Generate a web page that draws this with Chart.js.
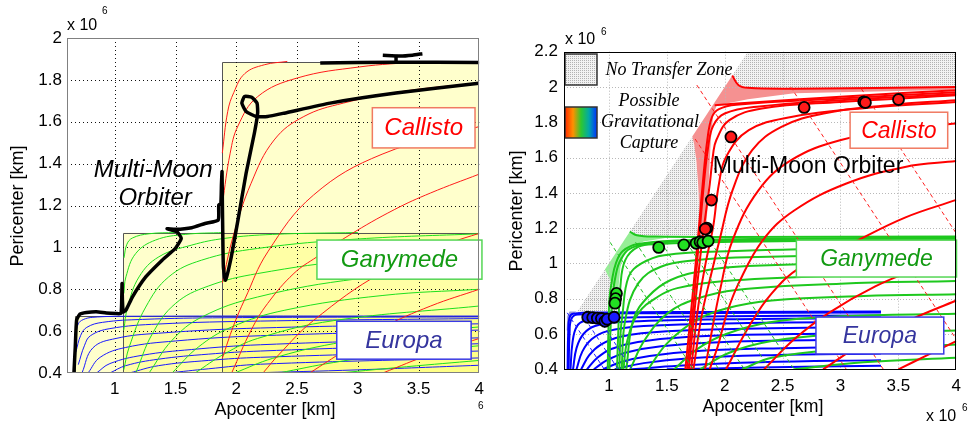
<!DOCTYPE html>
<html>
<head>
<meta charset="utf-8">
<script src="https://cdn.jsdelivr.net/npm/chart.js"></script>
<style>
html,body{margin:0;padding:0;background:#fff;}
#wrap{position:relative;width:968px;height:428px;overflow:hidden;background:#fff;}
canvas{position:absolute;top:0;}
#left{left:0;}
#right{left:490px;}
</style>
</head>
<body>
<div id="wrap">
<canvas id="left" width="490" height="428"></canvas>
<canvas id="right" width="478" height="428"></canvas>
</div>
<script>
const SANS = '"Liberation Sans", Arial, sans-serif';
const SERIF = '"Liberation Serif", "Times New Roman", serif';

// ---- axes (units of 10^6 km) ----
const X_TICKS = [1, 1.5, 2, 2.5, 3, 3.5, 4];
const Y_TICKS_LEFT = [0.4, 0.6, 0.8, 1, 1.2, 1.4, 1.6, 1.8, 2];
const Y_TICKS_RIGHT = [0.4, 0.6, 0.8, 1, 1.2, 1.4, 1.6, 1.8, 2, 2.2];

// ---- moon orbit radii ----
const EUROPA_ORBIT = 0.671;
const GANYMEDE_ORBIT = 1.070;
const CALLISTO_ORBIT = 1.883;

// ---- left figure: v-infinity contours [apocenter, pericenter] ----
const L_RED = [
  [[1.885,1.45],[1.93,1.65],[1.98,1.74],[2.07,1.83],[2.23,1.872],[2.42,1.888]],
  [[1.885,1.205],[1.95,1.45],[2.014,1.58],[2.176,1.72],[2.502,1.809],[3.017,1.862],[3.5,1.886]],
  [[1.885,0.83],[1.977,1.058],[2.122,1.306],[2.312,1.513],[2.556,1.625],[2.881,1.689],[3.369,1.745],[4,1.785]],
  [[1.885,0.47],[1.977,0.625],[2.071,0.753],[2.26,0.979],[2.636,1.25],[3.2,1.445],[4,1.577]],
  [[1.962,0.40],[2.122,0.604],[2.258,0.732],[2.475,0.876],[2.664,0.955],[2.935,1.06],[3.3,1.18],[3.6,1.26],[4,1.35]],
  [[2.22,0.40],[2.354,0.49],[2.636,0.651],[3.2,0.88],[3.766,1.022],[4,1.067]],
  [[2.604,0.40],[2.9,0.51],[3.2,0.616],[3.6,0.72],[4,0.80]],
  [[3.206,0.40],[3.6,0.49],[4,0.565]]
];
const L_GREEN = [
  [[1.076,0.95],[1.10,1.015],[1.146,1.045],[1.282,1.065],[1.5,1.071]],
  [[1.075,0.78],[1.092,0.859],[1.173,0.971],[1.336,1.035],[1.58,1.062],[1.9,1.071]],
  [[1.074,0.605],[1.106,0.715],[1.2,0.859],[1.363,0.955],[1.634,1.011],[1.905,1.043],[2.3,1.062],[3,1.071]],
  [[1.074,0.415],[1.119,0.524],[1.255,0.715],[1.444,0.859],[1.715,0.939],[2.176,0.995],[3,1.04],[4,1.065]],
  [[1.173,0.40],[1.309,0.587],[1.498,0.731],[1.769,0.815],[2.176,0.875],[3,0.94],[4,0.97]],
  [[1.282,0.40],[1.471,0.556],[1.715,0.667],[2.176,0.763],[3,0.85],[4,0.90]],
  [[1.471,0.40],[1.688,0.524],[1.959,0.619],[2.4,0.70],[3.2,0.77],[4,0.80]],
  [[1.661,0.40],[1.905,0.492],[2.176,0.565],[2.8,0.65],[4,0.72]],
  [[1.986,0.40],[2.3,0.47],[2.8,0.54],[3.4,0.59],[4,0.62]],
  [[2.35,0.40],[2.8,0.45],[3.4,0.50],[4,0.53]],
  [[2.85,0.40],[3.4,0.43],[4,0.46]]
];
const L_BLUE = [
  [[0.676,0.58],[0.70,0.635],[0.74,0.655],[0.82,0.666],[1.1,0.671],[4,0.672]],
  [[0.68,0.50],[0.72,0.58],[0.77,0.618],[0.9,0.642],[1.23,0.656],[1.9,0.664],[4,0.668]],
  [[0.70,0.44],[0.75,0.53],[0.80,0.578],[0.96,0.612],[1.36,0.634],[2.2,0.648],[4,0.66]],
  [[0.73,0.40],[0.82,0.52],[1.01,0.565],[1.36,0.590],[2.2,0.615],[4,0.635]],
  [[0.78,0.40],[0.88,0.475],[1.09,0.522],[1.5,0.553],[2.2,0.578],[4,0.605]],
  [[0.85,0.40],[0.96,0.445],[1.23,0.485],[1.63,0.512],[2.2,0.535],[4,0.568]],
  [[0.96,0.40],[1.09,0.435],[1.36,0.466],[1.77,0.49],[2.2,0.505],[4,0.54]],
  [[1.12,0.40],[1.36,0.435],[1.77,0.46],[2.2,0.475],[4,0.505]],
  [[1.44,0.40],[1.77,0.42],[2.2,0.442],[4,0.472]],
  [[2.1,0.40],[3,0.415],[4,0.437]]
];
// Multi-Moon Orbiter path
const L_ORBITER = [
  [0.664,0.40],[0.675,0.524],[0.686,0.652],[0.713,0.681],[0.767,0.689],[0.848,0.693],[0.93,0.687],
  [1.011,0.684],[1.051,0.684],[1.058,0.77],[1.060,0.827],[1.063,0.75],[1.070,0.692],[1.092,0.70],
  [1.146,0.764],[1.255,0.859],[1.39,0.939],[1.499,0.995],[1.547,1.043],[1.512,1.075],[1.431,1.089],
  [1.499,1.086],[1.634,1.094],[1.743,1.114],[1.851,1.130],[1.856,1.202],[1.873,1.210],[1.878,1.30],
  [1.883,1.362],[1.886,1.2],[1.889,1.067],[1.894,0.907],[1.911,0.843],[1.959,0.955],[2.014,1.130],
  [2.081,1.354],[2.149,1.545],[2.176,1.641],[2.171,1.689],[2.127,1.717],[2.068,1.721],[2.046,1.689],
  [2.081,1.649],[2.163,1.625],[2.257,1.625],[2.393,1.641],[2.772,1.689],[3.314,1.737],[3.997,1.784]
];
const L_ORBITER_TOP = [[2.691,1.881],[3.3,1.884],[4,1.883]];
const L_ORBITER_HOOK = [[3.206,1.918],[3.35,1.914],[3.45,1.918],[3.532,1.925]];
const L_ORBITER_STUB = [[3.315,1.886],[3.315,1.92]];

// ---- right figure ----
const R_RED = [
  [[2.065,2.065],[2.12,2.01],[2.2,1.995],[2.6,1.99],[4,2.0]],
  [[1.913,1.896],[2.3,1.915],[3,1.945],[4,1.982]],
  [[1.66,0.40],[1.72,0.80],[1.77,1.15],[1.81,1.45],[1.85,1.70],[1.89,1.83],[1.95,1.875],[2.1,1.90],[3,1.935],[4,1.97]],
  [[1.675,0.40],[1.735,0.80],[1.78,1.15],[1.82,1.45],[1.855,1.65],[1.90,1.78],[2.0,1.85],[2.3,1.89],[3,1.925],[4,1.96]],
  [[1.69,0.40],[1.75,0.80],[1.80,1.10],[1.84,1.30],[1.871,1.45],[1.90,1.62],[1.927,1.698],[2.04,1.812],[2.321,1.878],[2.996,1.915],[4,1.953]],
  [[1.71,0.40],[1.77,0.75],[1.835,1.0],[1.9,1.207],[1.95,1.45],[2.012,1.604],[2.208,1.755],[2.574,1.83],[3.2,1.88],[4,1.915]],
  [[1.73,0.40],[1.80,0.70],[1.88,0.93],[1.955,1.132],[2.068,1.415],[2.237,1.642],[2.49,1.774],[2.855,1.85],[3.417,1.897],[4,1.925]],
  [[1.83,0.40],[1.89,0.62],[1.96,0.85],[2.068,1.132],[2.293,1.415],[2.574,1.585],[2.996,1.698],[3.557,1.765],[4,1.793]],
  [[1.87,0.40],[1.94,0.53],[2.02,0.72],[2.12,0.887],[2.33,1.132],[2.6,1.30],[3.051,1.453],[3.557,1.547],[4,1.58]],
  [[2.012,0.40],[2.208,0.641],[2.406,0.83],[2.659,0.981],[3.051,1.10],[3.557,1.26],[4,1.36]],
  [[2.34,0.40],[2.6,0.57],[2.9,0.72],[3.3,0.87],[3.7,0.98],[4,1.05]],
  [[2.85,0.40],[3.2,0.55],[3.6,0.68],[4,0.79]],
  [[3.5,0.40],[3.75,0.48],[4,0.56]]
];
const R_GREEN = [
  [[0.99,0.40],[0.995,0.60],[1.005,0.80],[1.025,0.90],[1.06,1.0],[1.12,1.07],[1.25,1.11],[1.6,1.13],[2.5,1.14],[4,1.148]],
  [[1.005,0.40],[1.012,0.60],[1.03,0.80],[1.055,0.92],[1.10,1.02],[1.2,1.09],[1.45,1.12],[2.1,1.13],[4,1.142]],
  [[1.18,1.18],[1.24,1.16],[1.4,1.152],[2.0,1.15],[4,1.152]],
  [[1.07,0.40],[1.08,0.60],[1.099,0.868],[1.141,1.019],[1.253,1.094],[1.422,1.11],[2.096,1.123],[4,1.135]],
  [[1.09,0.40],[1.10,0.60],[1.115,0.70],[1.169,0.923],[1.281,1.0],[1.478,1.047],[2.096,1.07],[4,1.10]],
  [[1.11,0.40],[1.141,0.68],[1.253,0.887],[1.449,0.981],[1.759,1.019],[2.096,1.034],[4,1.06]],
  [[1.15,0.40],[1.211,0.68],[1.338,0.811],[1.534,0.906],[1.843,0.961],[2.2,0.985],[4,1.02]],
  [[1.125,0.40],[1.16,0.566],[1.253,0.717],[1.422,0.811],[1.59,0.86],[2.0,0.90],[3,0.93],[4,0.945]],
  [[1.183,0.40],[1.309,0.566],[1.506,0.717],[1.759,0.80],[2.1,0.85],[3,0.885],[4,0.90]],
  [[1.338,0.40],[1.506,0.55],[1.759,0.68],[2.012,0.745],[2.406,0.79],[3.2,0.815],[4,0.825]],
  [[1.563,0.40],[1.759,0.513],[2.012,0.60],[2.406,0.668],[3,0.70],[4,0.715]],
  [[1.787,0.40],[2.04,0.494],[2.406,0.56],[3,0.60],[4,0.62]],
  [[2.152,0.40],[2.406,0.466],[3,0.51],[4,0.54]],
  [[2.6,0.40],[3.2,0.44],[4,0.465]]
];
const R_BLUE = [
  [[0.643,0.40],[0.648,0.60],[0.658,0.69],[0.69,0.715],[1.0,0.722],[2.0,0.725],[3.35,0.728]],
  [[0.652,0.40],[0.66,0.60],[0.675,0.685],[0.73,0.71],[1.5,0.718],[3.35,0.722]],
  [[0.668,0.40],[0.685,0.55],[0.72,0.64],[0.79,0.675],[1.0,0.69],[2.0,0.70],[3.35,0.705]],
  [[0.69,0.40],[0.72,0.52],[0.78,0.60],[0.88,0.645],[1.1,0.668],[2.0,0.684],[3.35,0.69]],
  [[0.72,0.40],[0.77,0.50],[0.85,0.57],[0.98,0.615],[1.3,0.645],[2.2,0.662],[3.35,0.668]],
  [[0.76,0.40],[0.83,0.48],[0.93,0.54],[1.1,0.585],[1.5,0.615],[2.4,0.632],[3.35,0.64]],
  [[0.81,0.40],[0.90,0.465],[1.02,0.515],[1.25,0.555],[1.7,0.585],[2.6,0.60],[3.35,0.605]],
  [[0.87,0.40],[0.98,0.45],[1.15,0.495],[1.45,0.53],[2.0,0.555],[3.35,0.57]],
  [[0.95,0.40],[1.1,0.44],[1.35,0.475],[1.8,0.505],[2.5,0.52],[3.35,0.53]],
  [[1.05,0.40],[1.3,0.435],[1.7,0.462],[2.4,0.48],[3.35,0.49]],
  [[1.2,0.40],[1.6,0.42],[2.3,0.44],[3.35,0.452]],
  [[1.5,0.40],[2.3,0.41],[3.35,0.42]]
];
// constant semi-major axis lines
const R_RED_DASH = [
  [[1.759,2.011],[3.37,0.40]],
  [[1.745,1.705],[3.05,0.40]],
  [[2.57,2.0],[4,0.57]],
  [[3.18,1.99],[4,1.17]]
];
const R_GREEN_DASH = [
  [[1.01,1.12],[1.73,0.40]],
  [[1.23,1.12],[1.95,0.40]],
  [[1.45,1.12],[2.17,0.40]],
  [[1.67,1.12],[2.39,0.40]],
  [[1.88,1.12],[2.60,0.40]]
];
const R_BLUE_DASH = [
  [[0.64,0.72],[0.96,0.40]],
  [[0.76,0.72],[1.08,0.40]],
  [[0.88,0.72],[1.20,0.40]]
];
// flyby points
const R_RED_DOTS = [[1.885,1.359],[1.845,1.20],[1.832,1.195],[2.054,1.717],[2.686,1.884],[3.201,1.916],[3.215,1.912],[3.501,1.929]];
const R_GREEN_DOTS = [[1.065,0.83],[1.058,0.80],[1.052,0.775],[1.43,1.091],[1.647,1.105],[1.753,1.114],[1.787,1.123],[1.81,1.118],[1.857,1.127]];
const R_BLUE_DOTS = [[0.817,0.695],[0.86,0.693],[0.90,0.69],[0.935,0.688],[0.965,0.672],[0.985,0.684],[1.045,0.695]];
// regions
const R_GRAY_ZONES = [
  [[0.70,0.70],[1.0,0.722],[1.062,0.722],[1.05,0.80],[1.03,0.88],[0.965,0.965]],
  [[1.18,1.18],[1.72,1.72],[1.74,1.66],[1.755,1.55],[1.77,1.40],[1.78,1.28],[1.79,1.16],[1.5,1.148],[1.32,1.152],[1.24,1.165]],
  [[2.065,2.065],[2.2,2.2],[4,2.2],[4,2.0],[2.5,1.99],[2.2,1.997],[2.11,2.015]]
];
const R_CAPTURE_RED = [[1.72,1.72],[2.065,2.065],[2.11,2.015],[2.2,1.997],[2.5,1.99],[4,2.0],[4,1.985],[2.6,1.965],[2.2,1.93],[1.93,1.895],[1.90,1.84],[1.88,1.70],[1.865,1.5],[1.85,1.3],[1.835,1.17],[1.80,1.15],[1.79,1.2],[1.78,1.32],[1.77,1.45],[1.755,1.58],[1.735,1.68]];
const R_CAPTURE_GREEN = [[0.965,0.965],[1.18,1.18],[1.24,1.165],[1.32,1.152],[1.5,1.145],[1.3,1.125],[1.2,1.10],[1.13,1.05],[1.10,0.98],[1.085,0.88],[1.075,0.78],[1.065,0.722],[1.05,0.80],[1.03,0.88]];
const R_CAPTURE_BLUE = [[0.635,0.62],[0.64,0.70],[0.66,0.728],[0.72,0.728],[0.685,0.712],[0.66,0.68],[0.648,0.62]];

// ---- annotation boxes [x0, y0, x1, y1] ----
const L_BOX_CALLISTO = [3.12, 1.475, 3.965, 1.667];
const L_BOX_GANYMEDE = [2.664, 0.848, 4.022, 1.035];
const L_BOX_EUROPA = [2.827, 0.466, 3.933, 0.647];
const R_BOX_CALLISTO = [3.083, 1.653, 3.926, 1.857];
const R_BOX_GANYMEDE = [2.619, 0.923, 4.002, 1.132];
const R_BOX_EUROPA = [2.788, 0.487, 3.892, 0.696];

// ---------- helpers ----------
const X = (c, v) => c.scales.x.getPixelForValue(v);
const Y = (c, v) => c.scales.y.getPixelForValue(v);
const toXY = pts => pts.map(p => ({x: p[0], y: p[1]}));

function lines(list, color, width, order, extra) {
  return list.map(pts => Object.assign({
    data: toXY(pts), showLine: true, borderColor: color, backgroundColor: color,
    borderWidth: width, pointRadius: 0, tension: 0.4, fill: false, order: order
  }, extra || {}));
}
function dots(pts, color) {
  return {
    data: toXY(pts), showLine: false, pointRadius: 5.5, pointBorderWidth: 1.8,
    pointBorderColor: '#000', pointBackgroundColor: color, backgroundColor: color,
    borderColor: '#000', order: 0
  };
}
function clipToArea(c) {
  const a = c.chartArea;
  c.ctx.beginPath();
  c.ctx.rect(a.left, a.top, a.right - a.left, a.bottom - a.top);
  c.ctx.clip();
}
function polyPath(c, pts) {
  const ctx = c.ctx;
  ctx.beginPath();
  pts.forEach((p, i) => {
    const px = X(c, p[0]), py = Y(c, p[1]);
    if (i) ctx.lineTo(px, py); else ctx.moveTo(px, py);
  });
  ctx.closePath();
}
function dottedGrid(c, color, dash, yTicks) {
  const ctx = c.ctx, a = c.chartArea;
  ctx.save();
  ctx.strokeStyle = color; ctx.lineWidth = 1; ctx.setLineDash(dash);
  X_TICKS.forEach(v => {
    const x = Math.round(X(c, v)) + 0.5;
    if (x < a.right - 2) { ctx.beginPath(); ctx.moveTo(x, a.top); ctx.lineTo(x, a.bottom); ctx.stroke(); }
  });
  yTicks.forEach(v => {
    const y = Math.round(Y(c, v)) + 0.5;
    if (y > a.top + 2 && y < a.bottom - 2) { ctx.beginPath(); ctx.moveTo(a.left, y); ctx.lineTo(a.right, y); ctx.stroke(); }
  });
  ctx.restore();
}
function write(ctx, s, x, y, font, color, align, base) {
  ctx.save();
  ctx.font = font; ctx.fillStyle = color;
  ctx.textAlign = align || 'center'; ctx.textBaseline = base || 'middle';
  ctx.fillText(s, x, y);
  ctx.restore();
}
function writeVertical(ctx, s, x, y, font) {
  ctx.save();
  ctx.translate(x, y); ctx.rotate(-Math.PI / 2);
  ctx.font = font; ctx.fillStyle = '#000'; ctx.textAlign = 'center'; ctx.textBaseline = 'middle';
  ctx.fillText(s, 0, 0);
  ctx.restore();
}
function labelBox(c, box, text, font, textColor, edgeColor) {
  const ctx = c.ctx;
  const x0 = X(c, box[0]), x1 = X(c, box[2]), y0 = Y(c, box[3]), y1 = Y(c, box[1]);
  ctx.save();
  ctx.fillStyle = '#fff';
  ctx.fillRect(x0, y0, x1 - x0, y1 - y0);
  ctx.strokeStyle = edgeColor; ctx.lineWidth = 1.5;
  ctx.strokeRect(x0, y0, x1 - x0, y1 - y0);
  ctx.restore();
  write(ctx, text, (x0 + x1) / 2, (y0 + y1) / 2 + 1, font, textColor);
}
function frame(c, color) {
  const a = c.chartArea, ctx = c.ctx;
  ctx.save();
  ctx.strokeStyle = color; ctx.lineWidth = 1;
  ctx.strokeRect(Math.round(a.left) + 0.5, Math.round(a.top) + 0.5,
                 Math.round(a.right - a.left) - 1, Math.round(a.bottom - a.top) - 1);
  ctx.restore();
}
function scalesFor(xMin, yMax, yTicks, yWidth, xHeight, xPad, yPad) {
  const tickFont = {family: SANS, size: 17};
  return {
    x: {
      type: 'linear', min: xMin, max: 4,
      afterBuildTicks: s => { s.ticks = X_TICKS.map(v => ({value: v})); },
      afterFit: s => { s.height = xHeight; },
      grid: {display: false, drawTicks: false}, border: {display: false},
      ticks: {padding: xPad, font: tickFont, color: '#000', maxRotation: 0, autoSkip: false, callback: v => String(v)}
    },
    y: {
      type: 'linear', min: 0.4, max: yMax,
      afterBuildTicks: s => { s.ticks = yTicks.map(v => ({value: v})); },
      afterFit: s => { s.width = yWidth; },
      grid: {display: false, drawTicks: false}, border: {display: false},
      ticks: {padding: yPad, font: tickFont, color: '#000', autoSkip: false, callback: v => String(v)}
    }
  };
}

// ---------- left figure ----------
const YELLOW_ZONES = [
  [EUROPA_ORBIT, 0.4, 4, EUROPA_ORBIT],
  [GANYMEDE_ORBIT, 0.4, 4, GANYMEDE_ORBIT],
  [CALLISTO_ORBIT, 0.4, 4, CALLISTO_ORBIT]
];
const leftDecor = {
  id: 'leftDecor',
  beforeDatasetsDraw(c) {
    const ctx = c.ctx;
    ctx.save();
    clipToArea(c);
    YELLOW_ZONES.forEach(z => {
      ctx.fillStyle = 'rgba(255,255,40,0.24)';
      const x0 = X(c, z[0]), x1 = X(c, z[2]), yt = Y(c, z[3]), yb = Y(c, z[1]);
      ctx.fillRect(x0, yt, x1 - x0, yb - yt);
    });
    ctx.strokeStyle = '#555'; ctx.lineWidth = 1;
    YELLOW_ZONES.forEach(z => {
      const x0 = Math.round(X(c, z[0])) + 0.5, x1 = X(c, z[2]);
      const yt = Math.round(Y(c, z[3])) + 0.5, yb = Y(c, z[1]);
      ctx.beginPath(); ctx.moveTo(x0, yb); ctx.lineTo(x0, yt); ctx.lineTo(x1, yt); ctx.stroke();
    });
    ctx.restore();
    dottedGrid(c, '#111', [1, 3], Y_TICKS_LEFT);
  },
  afterDatasetsDraw(c) {
    const ctx = c.ctx;
    labelBox(c, L_BOX_CALLISTO, 'Callisto', 'italic 24px ' + SANS, '#ff0000', '#f07a62');
    labelBox(c, L_BOX_GANYMEDE, 'Ganymede', 'italic 24px ' + SANS, '#129a12', '#55d655');
    labelBox(c, L_BOX_EUROPA, 'Europa', 'italic 24px ' + SANS, '#35359e', '#3a3ae6');
    write(ctx, 'Multi-Moon', X(c, 1.316), Y(c, 1.369), 'italic 24px ' + SANS, '#000');
    write(ctx, 'Orbiter', X(c, 1.332), Y(c, 1.236), 'italic 24px ' + SANS, '#000');
    frame(c, '#808080');
    writeVertical(ctx, 'Pericenter [km]', 18, 206, '18px ' + SANS);
    write(ctx, 'Apocenter [km]', 275, 410, '18px ' + SANS, '#000');
    write(ctx, 'x 10', 67, 30, '16px ' + SANS, '#000', 'left', 'alphabetic');
    write(ctx, '6', 102, 14, '10px ' + SANS, '#000', 'left', 'alphabetic');
    write(ctx, '6', 478, 409, '10px ' + SANS, '#000', 'left', 'alphabetic');
  }
};

const leftSets = [].concat(
  [Object.assign(lines([L_ORBITER], '#000', 3.5, 1)[0], {tension: 0.15})],
  lines([L_ORBITER_TOP, L_ORBITER_HOOK, L_ORBITER_STUB], '#000', 3.5, 1, {tension: 0.2}),
  lines(L_RED, '#ff1a1a', 1, 3),
  lines(L_GREEN, '#1ee01e', 1, 4),
  lines(L_BLUE, '#1a1aff', 1, 5)
);

new Chart(document.getElementById('left'), {
  type: 'scatter',
  data: {datasets: leftSets},
  options: {
    responsive: false, animation: false, devicePixelRatio: 1, events: [],
    layout: {padding: {left: 0, right: 6, top: 38, bottom: 0}, autoPadding: false},
    plugins: {legend: {display: false}, tooltip: {enabled: false}},
    scales: scalesFor(0.607, 2, Y_TICKS_LEFT, 67, 55, 6, 5)
  },
  plugins: [leftDecor]
});

// ---------- right figure ----------
function grayPattern(ctx) {
  const p = document.createElement('canvas');
  p.width = 2; p.height = 2;
  const g = p.getContext('2d');
  g.fillStyle = '#f2f2f2'; g.fillRect(0, 0, 2, 2);
  g.fillStyle = '#b2b2b2'; g.fillRect(0, 0, 1, 1);
  return ctx.createPattern(p, 'repeat');
}
const rightDecor = {
  id: 'rightDecor',
  beforeDatasetsDraw(c) {
    const ctx = c.ctx;
    ctx.save();
    clipToArea(c);
    const pat = grayPattern(ctx);
    R_GRAY_ZONES.forEach(z => { polyPath(c, z); ctx.fillStyle = pat; ctx.fill(); });
    polyPath(c, R_CAPTURE_RED); ctx.fillStyle = 'rgb(245,145,145)'; ctx.fill();
    polyPath(c, R_CAPTURE_GREEN); ctx.fillStyle = 'rgb(150,238,150)'; ctx.fill();
    polyPath(c, R_CAPTURE_BLUE); ctx.fillStyle = 'rgb(150,150,215)'; ctx.fill();
    ctx.restore();
    dottedGrid(c, '#b8b8b8', [1, 2], Y_TICKS_RIGHT);
  },
  afterDatasetsDraw(c) {
    const ctx = c.ctx;
    labelBox(c, R_BOX_CALLISTO, 'Callisto', 'italic 23px ' + SANS, '#ff0000', '#f07a62');
    labelBox(c, R_BOX_GANYMEDE, 'Ganymede', 'italic 23px ' + SANS, '#129a12', '#55d655');
    labelBox(c, R_BOX_EUROPA, 'Europa', 'italic 23px ' + SANS, '#35359e', '#3a3ae6');
    write(ctx, 'Multi-Moon Orbiter', X(c, 2.72), Y(c, 1.551), '23px ' + SANS, '#000');

    // legend
    ctx.save();
    ctx.fillStyle = grayPattern(ctx);
    ctx.fillRect(75, 54, 32, 31);
    ctx.strokeStyle = '#333'; ctx.lineWidth = 1.5;
    ctx.strokeRect(75, 54, 32, 31);
    const grad = ctx.createLinearGradient(75, 0, 107, 0);
    grad.addColorStop(0, '#ff2a00');
    grad.addColorStop(0.25, '#ff9000');
    grad.addColorStop(0.5, '#2ec82e');
    grad.addColorStop(0.75, '#00a8a8');
    grad.addColorStop(1, '#0030ff');
    ctx.fillStyle = grad;
    ctx.fillRect(75, 107, 32, 31);
    ctx.strokeRect(75, 107, 32, 31);
    ctx.restore();
    write(ctx, 'No Transfer Zone', 179, 70, 'italic 18px ' + SERIF, '#000');
    write(ctx, 'Possible', 159, 101, 'italic 18px ' + SERIF, '#000');
    write(ctx, 'Gravitational', 160, 122, 'italic 18px ' + SERIF, '#000');
    write(ctx, 'Capture', 159, 143, 'italic 18px ' + SERIF, '#000');

    frame(c, '#000');
    writeVertical(ctx, 'Pericenter [km]', 27, 211, '18px ' + SANS);
    write(ctx, 'Apocenter [km]', 273, 407, '18px ' + SANS, '#000');
    write(ctx, 'x 10', 75, 44, '16px ' + SANS, '#000', 'left', 'alphabetic');
    write(ctx, '6', 111, 35, '10px ' + SANS, '#000', 'left', 'alphabetic');
    write(ctx, 'x 10', 436, 421, '16px ' + SANS, '#000', 'left', 'alphabetic');
    write(ctx, '6', 472, 411, '10px ' + SANS, '#000', 'left', 'alphabetic');
  }
};

const rightSets = [].concat(
  [dots(R_RED_DOTS, '#ff1a1a'), dots(R_GREEN_DOTS, '#22e022'), dots(R_BLUE_DOTS, '#1a1aff')],
  lines(R_RED_DASH, '#ff2020', 1, 2, {borderDash: [4, 3], tension: 0}),
  lines(R_GREEN_DASH, '#20c020', 1, 2, {borderDash: [4, 3], tension: 0}),
  lines(R_BLUE_DASH, '#2020ff', 1, 2, {borderDash: [4, 3], tension: 0}),
  lines(R_RED, '#ff0000', 2, 3),
  lines(R_GREEN, '#1ec81e', 2, 4),
  lines(R_BLUE, '#0000ff', 2, 5)
);

new Chart(document.getElementById('right'), {
  type: 'scatter',
  data: {datasets: rightSets},
  options: {
    responsive: false, animation: false, devicePixelRatio: 1, events: [],
    layout: {padding: {left: 0, right: 2.3, top: 51.7, bottom: 0}, autoPadding: false},
    plugins: {legend: {display: false}, tooltip: {enabled: false}},
    scales: scalesFor(0.612, 2.2, Y_TICKS_RIGHT, 74, 58.7, 7, 6)
  },
  plugins: [rightDecor]
});
</script>
</body>
</html>
